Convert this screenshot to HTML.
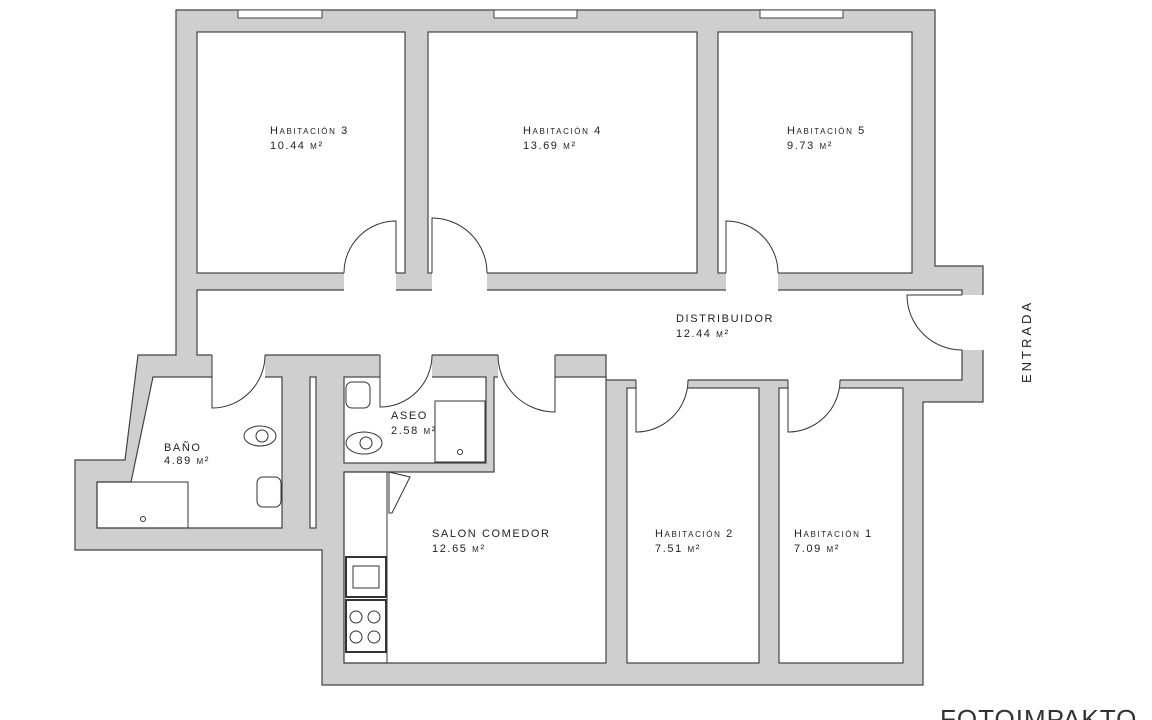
<!DOCTYPE html>
<html><head><meta charset="utf-8"><style>
body{margin:0;background:#fff;width:1152px;height:720px;overflow:hidden}
svg{display:block}
text{font-family:"Liberation Sans",sans-serif;font-size:11px;fill:#222;letter-spacing:1.6px;font-variant:small-caps}
</style></head><body>
<svg width="1152" height="720" viewBox="0 0 1152 720">
<g stroke="#444" stroke-width="1.2">
<polygon fill="#cfcfcf" points="176,10 935,10 935,266 983,266 983,402 923,402 923,685 322,685 322,550 75,550 75,460 125,460 138,355 176,355"/>
<g fill="#fff">
<rect x="197" y="32" width="208" height="241"/>
<rect x="428" y="32" width="269" height="241"/>
<rect x="718" y="32" width="194" height="241"/>
<polygon points="197,290 962,290 962,380 627,380 606,380 606,355 197,355"/>
<polygon points="153,377 282,377 282,528 97,528 97,482 131,482"/>
<rect x="310" y="377" width="6" height="151"/>
<rect x="344" y="377" width="142" height="86"/>
<polygon points="494,377 606,377 606,663 344,663 344,472 494,472"/>
<rect x="627" y="388" width="132" height="275"/>
<rect x="779" y="388" width="124" height="275"/>
</g>
</g>
<g fill="#fff">
<rect x="238" y="10" width="84" height="8" stroke="#444"/>
<rect x="494" y="10" width="83" height="8" stroke="#444"/>
<rect x="760" y="10" width="83" height="8" stroke="#444"/>
<rect x="344" y="272" width="52" height="20"/>
<rect x="432" y="272" width="55" height="20"/>
<rect x="726" y="272" width="52" height="20"/>
<rect x="212" y="353" width="53" height="26"/>
<rect x="380" y="353" width="52" height="26"/>
<rect x="498" y="353" width="57" height="26"/>
<rect x="636" y="379" width="52" height="10"/>
<rect x="788" y="379" width="52" height="10"/>
<rect x="960" y="295" width="25" height="55"/>
</g>
<g fill="none" stroke="#333" stroke-width="1">
<path d="M344,273 A52,52 0 0 1 396,221 L396,273"/>
<path d="M487,273 A55,55 0 0 0 432,218 L432,273"/>
<path d="M778,273 A52,52 0 0 0 726,221 L726,273"/>
<path d="M265,355 A53,53 0 0 1 212,408 L212,355"/>
<path d="M432,355 A52,52 0 0 1 380,407 L380,355"/>
<path d="M498,355 A57,57 0 0 0 555,412 L555,355"/>
<path d="M688,380 A52,52 0 0 1 636,432 L636,380"/>
<path d="M840,380 A52,52 0 0 1 788,432 L788,380"/>
<path d="M962,350 A55,55 0 0 1 907,295 L962,295"/>
<rect x="97" y="482" width="91" height="46"/><circle cx="143" cy="519" r="2.5"/>
<ellipse cx="260" cy="436" rx="16" ry="10"/><ellipse cx="262" cy="436" rx="6" ry="6"/>
<rect x="257" y="477" width="24" height="30" rx="6"/>
<rect x="346" y="382" width="24" height="26" rx="6"/>
<ellipse cx="364" cy="443" rx="18" ry="11"/><ellipse cx="366" cy="443" rx="6" ry="6"/>
<rect x="435" y="401" width="50" height="61"/><circle cx="460" cy="452" r="2.5"/>
<rect x="344" y="472" width="43" height="191"/>
<polygon points="389,472 410,477 392,513 389,513"/>
<rect x="346" y="557" width="40" height="40" stroke-width="2"/>
<rect x="353" y="566" width="26" height="22"/>
<rect x="346" y="600" width="40" height="52" stroke-width="2"/>
<circle cx="356" cy="617" r="6"/><circle cx="374" cy="617" r="6"/>
<circle cx="356" cy="637" r="6"/><circle cx="374" cy="637" r="6"/>
</g>
<text x="270" y="134">Habitación 3</text><text x="270" y="149">10.44 m²</text>
<text x="523" y="134">Habitación 4</text><text x="523" y="149">13.69 m²</text>
<text x="787" y="134">Habitación 5</text><text x="787" y="149">9.73 m²</text>
<text x="676" y="322">DISTRIBUIDOR</text><text x="676" y="337">12.44 m²</text>
<text x="164" y="451">BAÑO</text><text x="164" y="464">4.89 m²</text>
<text x="391" y="419">ASEO</text><text x="391" y="434">2.58 m²</text>
<text x="432" y="537">SALON COMEDOR</text><text x="432" y="552">12.65 m²</text>
<text x="655" y="537">Habitación 2</text><text x="655" y="552">7.51 m²</text>
<text x="794" y="537">Habitación 1</text><text x="794" y="552">7.09 m²</text>
<text x="1031" y="383" transform="rotate(-90 1031 383)" style="font-size:13px;letter-spacing:3px">ENTRADA</text>
<text x="940" y="728" style="font-size:26px;letter-spacing:1px;font-variant:normal;fill:#333">FOTOIMPAKTO</text>
</svg>
</body></html>
